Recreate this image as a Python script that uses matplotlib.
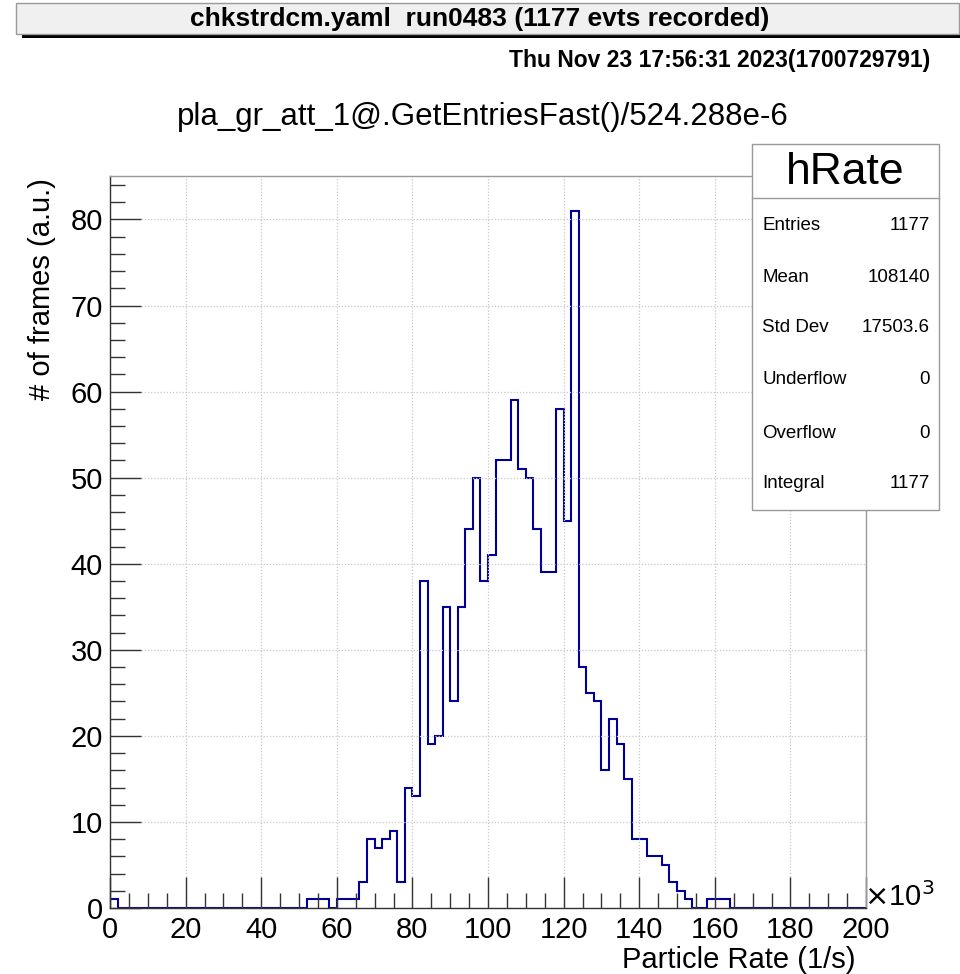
import numpy as np
import matplotlib
matplotlib.use("Agg")
import matplotlib.pyplot as plt
from matplotlib.patches import Rectangle
from matplotlib.ticker import MultipleLocator

plt.rcParams["font.family"] = ["Liberation Sans", "DejaVu Sans"]

# hRate: 100 bins, 0 .. 200 (x10^3 1/s)
bin_lo, bin_hi, n_bins = 0, 200, 100
counts = [1] + [0] * 25 + [1, 1, 1, 0, 1, 1, 1,
          3, 8, 7, 8, 9, 3, 14, 13, 38, 19, 20, 35, 24, 35, 44, 50, 38, 41,
          52, 52, 59, 51, 50, 44, 39, 39, 58, 45, 81, 28, 25, 24, 16, 22, 19,
          15, 8, 8, 6, 6, 5, 3, 2, 1, 0, 0, 1, 1, 1]
counts = counts + [0] * (n_bins - len(counts))

stat_names = ["Entries", "Mean", "Std Dev", "Underflow", "Overflow", "Integral"]
stat_values = ["1177", "108140", "17503.6", "0", "0", "1177"]

canvas_title = "chkstrdcm.yaml  run0483 (1177 evts recorded)"
date_text = "Thu Nov 23 17:56:31 2023(1700729791)"
hist_title = "pla_gr_att_1@.GetEntriesFast()/524.288e-6"

W, H = 960, 974
fig = plt.figure(figsize=(W / 100, H / 100), dpi=100)

def fx(px):
    return px / W

def fy(py):
    return 1 - py / H

# frame: x 110..866, y 176..908
ax = fig.add_axes([fx(110), fy(908), fx(866) - fx(110), fy(176) - fy(908)])
edges = np.linspace(bin_lo, bin_hi, n_bins + 1)
ax.stairs(counts, edges, color="#000099", linewidth=1.5)
ax.set_xlim(bin_lo, bin_hi)
ax.set_ylim(0, max(counts) * 1.05)

ax.xaxis.set_major_locator(MultipleLocator(20))
ax.xaxis.set_minor_locator(MultipleLocator(5))
ax.yaxis.set_major_locator(MultipleLocator(10))
ax.yaxis.set_minor_locator(MultipleLocator(2))
ax.tick_params(which="both", direction="in", colors="#333333", labelcolor="black",
               labelsize=21, width=1)
ax.tick_params(which="major", length=22, pad=5)
ax.tick_params(which="minor", length=11)
ax.tick_params(axis="x", pad=6)
ax.grid(True, which="major", linestyle=(0, (1, 1.5)), color="#c8c8c8", linewidth=0.9)
for s in ax.spines.values():
    s.set_color("#999999")
    s.set_linewidth(1)
ax.spines["left"].set_color("#333333")
ax.spines["bottom"].set_color("#333333")

fig.text(fx(856), fy(960), "Particle Rate (1/s)", ha="right", va="center", fontsize=21)
fig.text(fx(42), fy(178), "# of frames (a.u.)", ha="center", va="top", rotation=90,
         fontsize=21)
fig.text(fx(864), fy(897), r"$\times$10$^{3}$", ha="left", va="center", fontsize=21)

# canvas title box with shadow
fig.patches.append(Rectangle((fx(22), fy(38)), fx(962) - fx(22), fy(34) - fy(38),
                             transform=fig.transFigure, facecolor="black",
                             edgecolor="none", zorder=1))
fig.patches.append(Rectangle((fx(956), fy(38)), fx(962) - fx(956), fy(7) - fy(38),
                             transform=fig.transFigure, facecolor="black",
                             edgecolor="none", zorder=1))
fig.patches.append(Rectangle((fx(16), fy(34)), fx(959) - fx(16), fy(3) - fy(34),
                             transform=fig.transFigure, facecolor="#f0f0f0",
                             edgecolor="#999999", linewidth=1, zorder=2))
fig.text(fx(480), fy(19), canvas_title, ha="center", va="center", fontsize=19,
         fontweight="bold", zorder=3)
fig.text(fx(930), fy(61), date_text, ha="right", va="center", fontsize=16.5,
         fontweight="bold")
fig.text(fx(483), fy(117), hist_title, ha="center", va="center", fontsize=22.5)

# stats box
fig.patches.append(Rectangle((fx(752), fy(510)), fx(939) - fx(752), fy(144) - fy(510),
                             transform=fig.transFigure, facecolor="white",
                             edgecolor="#999999", linewidth=1, zorder=5))
fig.lines.append(plt.Line2D([fx(752), fx(939)], [fy(198), fy(198)],
                            transform=fig.transFigure, color="#999999",
                            linewidth=1, zorder=6))
fig.text(fx(845), fy(172), "hRate", ha="center", va="center", fontsize=32, zorder=7)
row_y = [225, 277, 327, 380, 433, 483]
for name, val, yy in zip(stat_names, stat_values, row_y):
    fig.text(fx(762), fy(yy), name, ha="left", va="center", fontsize=13.5, zorder=7)
    fig.text(fx(930), fy(yy), val, ha="right", va="center", fontsize=13.5, zorder=7)

fig.savefig("out.png", dpi=100)
